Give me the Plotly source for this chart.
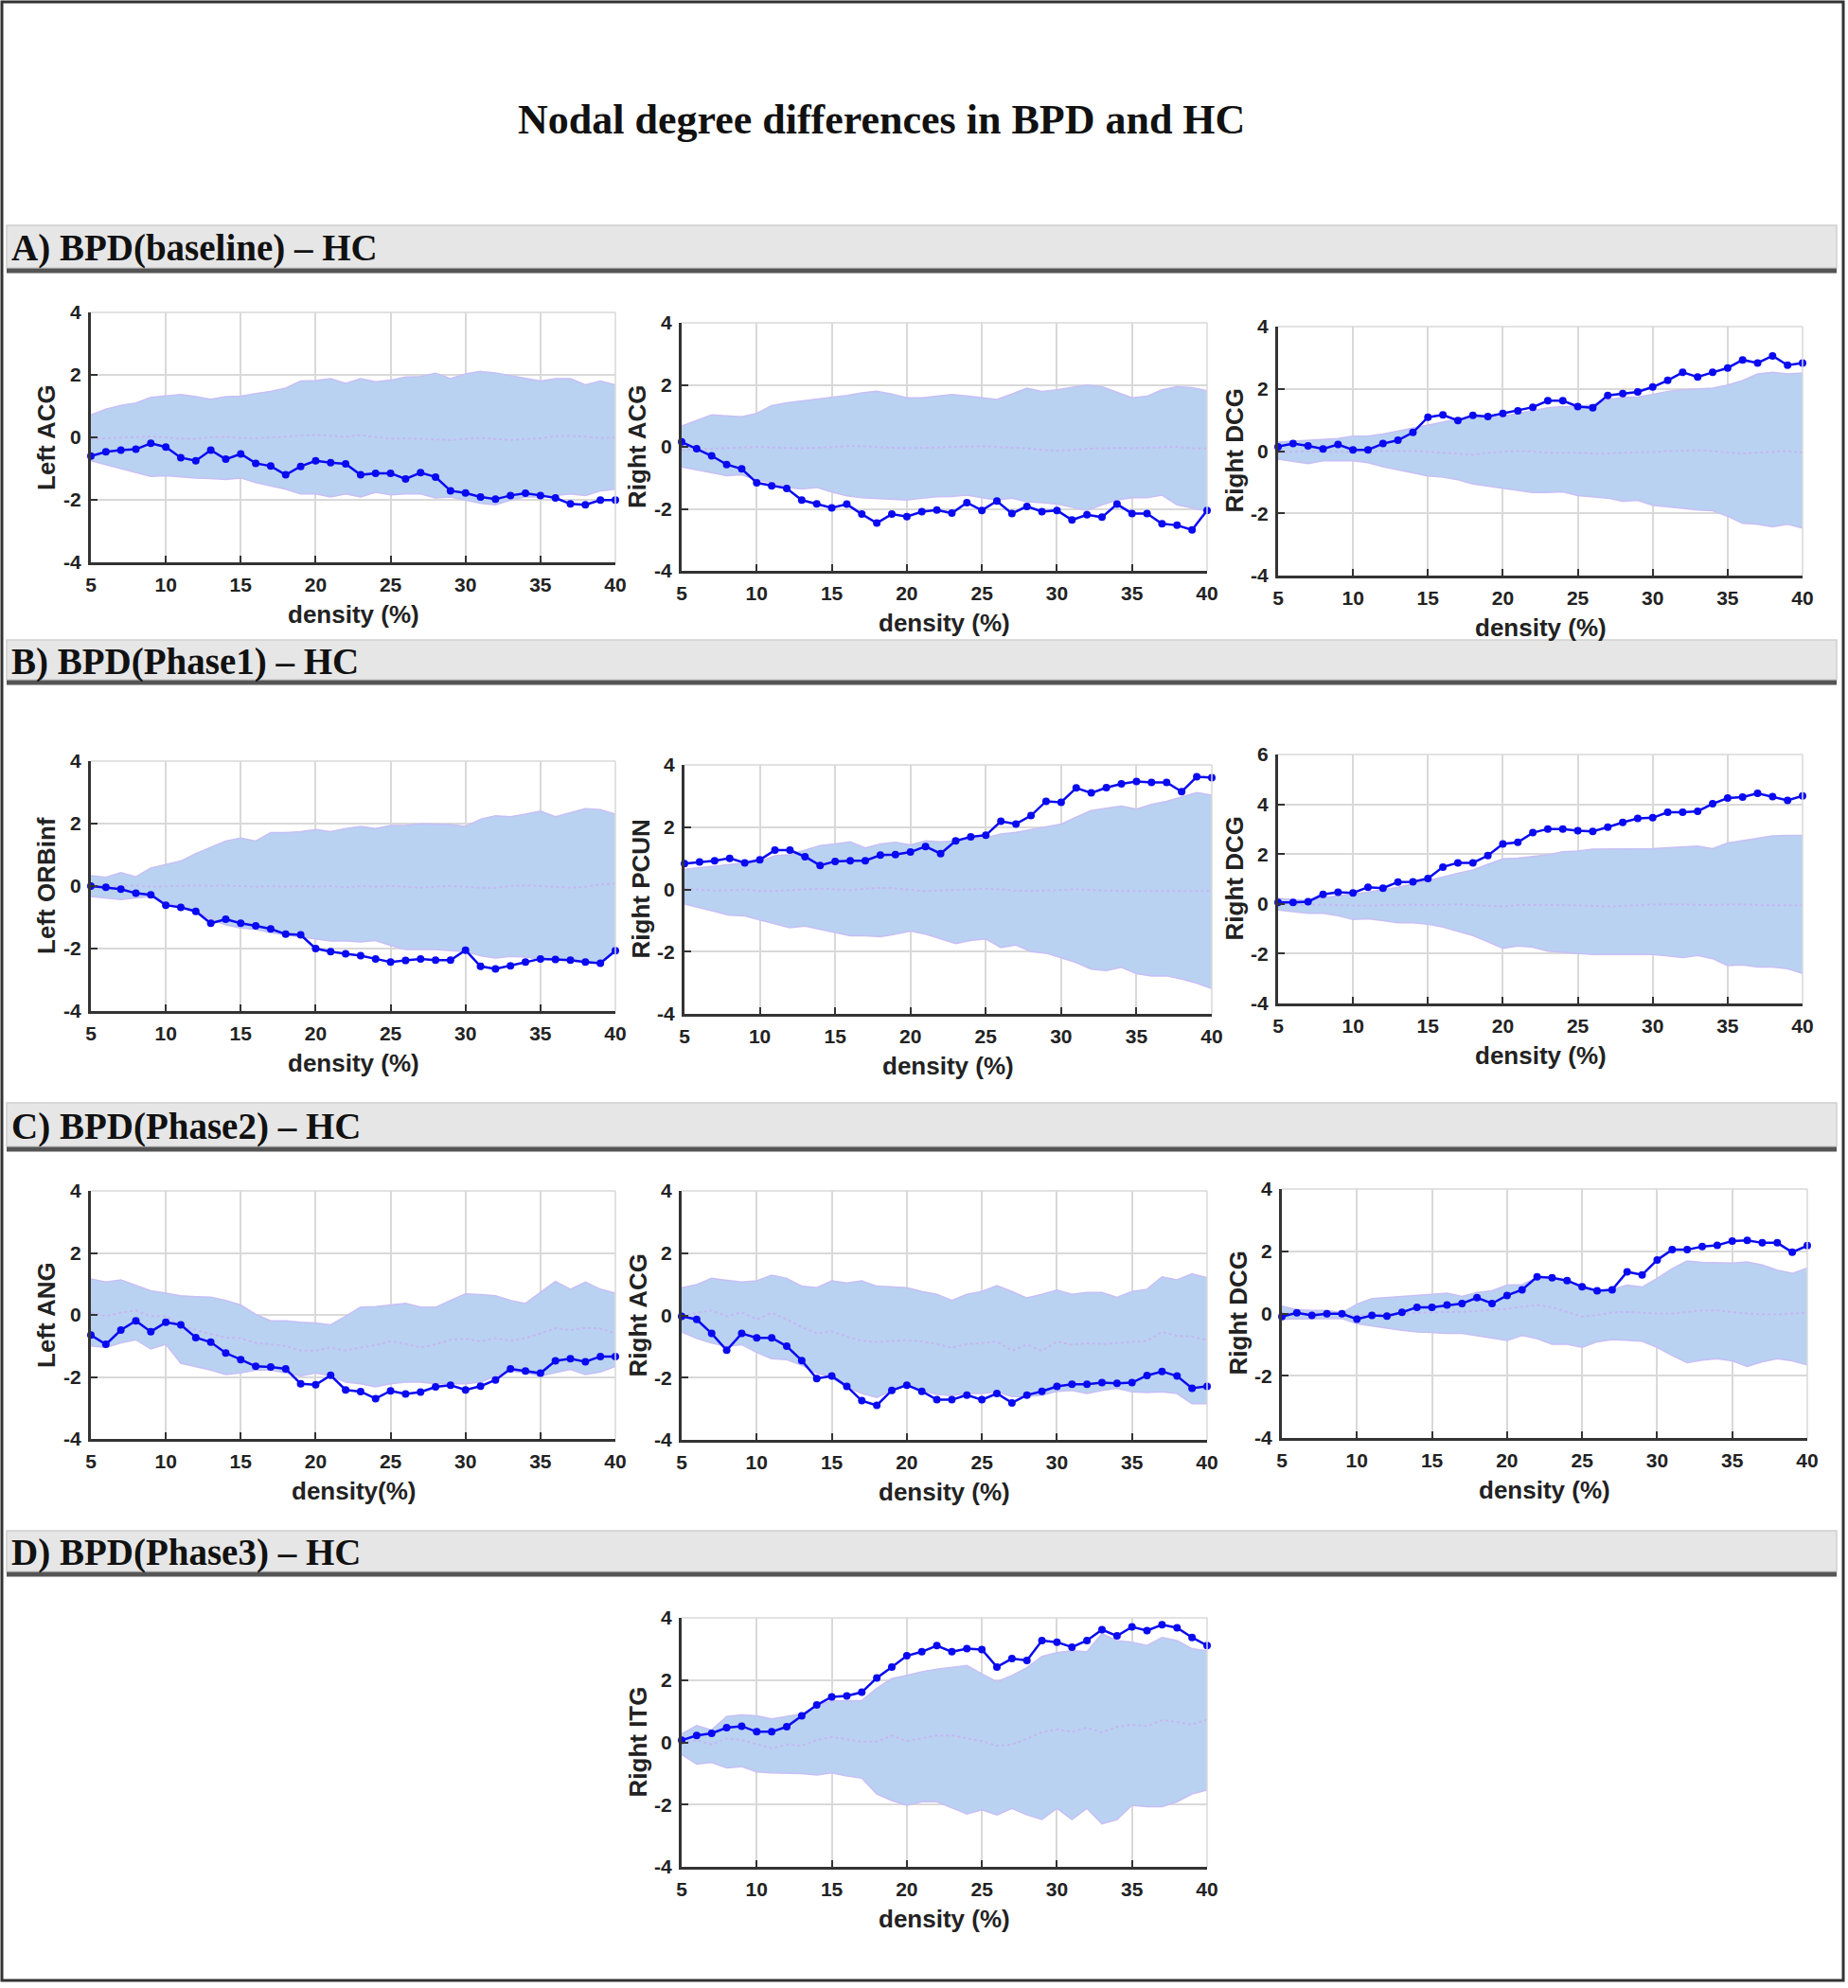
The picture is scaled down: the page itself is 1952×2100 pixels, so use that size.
import plotly.graph_objects as go

W, H = 1952, 2100

# ---------------- data ----------------
density = list(range(5, 41))
x_tick_vals = [5, 10, 15, 20, 25, 30, 35, 40]
y_ticks_std = [-4, -2, 0, 2, 4]
y_ticks_wide = [-4, -2, 0, 2, 4, 6]
y_labels_std = ["-4", "-2", "0", "2", "4"]
y_labels_wide = ["-4", "-2", "0", "2", "4", "6"]

main_title = "Nodal degree differences in BPD and HC"
section_titles = ["A) BPD(baseline) – HC", "B) BPD(Phase1) – HC",
                  "C) BPD(Phase2) – HC", "D) BPD(Phase3) – HC"]
region_labels = ["Left ACG", "Right ACG", "Right DCG",
                 "Left ORBinf", "Right PCUN", "Right DCG",
                 "Left ANG", "Right ACG", "Right DCG",
                 "Right ITG"]
x_titles = ["density (%)", "density (%)", "density (%)",
            "density (%)", "density (%)", "density (%)",
            "density(%)", "density (%)", "density (%)",
            "density (%)"]

# A1 Left ACG (baseline)
a1_diff = [-0.6, -0.46, -0.41, -0.38, -0.19, -0.31, -0.65, -0.75, -0.41, -0.7, -0.53, -0.83, -0.92, -1.2, -0.93, -0.75, -0.81, -0.85,
           -1.2, -1.15, -1.15, -1.33, -1.13, -1.27, -1.71, -1.78, -1.91, -1.98, -1.86, -1.79, -1.86, -1.94, -2.13, -2.16, -2.01, -2.01]
a1_upper = [0.72, 0.9, 1.02, 1.1, 1.28, 1.32, 1.37, 1.3, 1.22, 1.3, 1.32, 1.4, 1.47, 1.58, 1.8, 1.82, 1.88, 1.73,
            1.88, 1.78, 1.83, 1.93, 1.95, 2.05, 1.88, 2.03, 2.11, 2.06, 1.98, 1.88, 1.8, 1.88, 1.88, 1.68, 1.8, 1.68]
a1_lower = [-0.75, -0.88, -1.0, -1.12, -1.25, -1.23, -1.27, -1.3, -1.32, -1.35, -1.3, -1.45, -1.55, -1.66, -1.81, -1.81, -1.91, -1.81,
            -1.91, -1.76, -1.84, -1.81, -1.81, -1.94, -1.91, -2.01, -2.11, -2.16, -2.01, -1.91, -1.91, -1.86, -1.81, -1.86, -1.71, -1.66]
a1_mean = [-0.05, -0.03, 0.0, 0.02, 0.03, 0.0, -0.04, -0.05, 0.0, 0.02, -0.02, -0.03, 0.0, 0.03, 0.05, 0.08, 0.05, 0.02,
           0.07, 0.02, -0.04, -0.03, -0.05, -0.06, -0.08, -0.05, -0.02, -0.05, -0.08, -0.05, -0.03, 0.04, 0.05, 0.02, -0.02, 0.0]

# A2 Right ACG (baseline)
a2_diff = [0.16, -0.06, -0.29, -0.57, -0.71, -1.16, -1.26, -1.34, -1.72, -1.84, -1.97, -1.85, -2.17, -2.46, -2.17, -2.25, -2.09, -2.04,
           -2.14, -1.8, -2.05, -1.75, -2.15, -1.92, -2.09, -2.05, -2.36, -2.19, -2.27, -1.85, -2.15, -2.15, -2.48, -2.53, -2.68, -2.05]
a2_upper = [0.67, 0.85, 1.03, 1.0, 0.97, 1.08, 1.33, 1.42, 1.48, 1.53, 1.58, 1.66, 1.74, 1.79, 1.7, 1.58, 1.58, 1.63,
            1.69, 1.64, 1.58, 1.53, 1.7, 1.89, 1.79, 1.84, 1.92, 1.99, 1.94, 1.75, 1.58, 1.63, 1.84, 1.94, 1.91, 1.81]
a2_lower = [-0.65, -0.75, -0.85, -0.93, -0.9, -1.06, -1.16, -1.31, -1.36, -1.31, -1.46, -1.58, -1.64, -1.66, -1.7, -1.72, -1.66, -1.61,
            -1.6, -1.56, -1.64, -1.72, -1.66, -1.77, -1.8, -1.85, -1.95, -2.05, -1.87, -1.72, -1.64, -1.64, -1.56, -1.87, -1.97, -2.07]
a2_mean = [-0.1, -0.08, -0.05, -0.03, -0.02, 0.0, -0.02, -0.03, -0.05, -0.03, 0.0, 0.02, 0.02, 0.0, -0.03, -0.05, -0.03, -0.02,
           -0.02, 0.0, 0.02, 0.0, -0.02, -0.05, -0.1, -0.12, -0.1, -0.06, -0.05, -0.03, -0.05, -0.03, 0.0, 0.0, -0.05, -0.05]

# A3 Right DCG (baseline)
a3_diff = [0.14, 0.24, 0.17, 0.07, 0.21, 0.04, 0.04, 0.24, 0.35, 0.6, 1.09, 1.16, 0.98, 1.15, 1.11, 1.21, 1.29, 1.41,
           1.62, 1.62, 1.43, 1.39, 1.79, 1.85, 1.9, 2.06, 2.27, 2.53, 2.38, 2.53, 2.67, 2.93, 2.83, 3.06, 2.76, 2.83]
a3_upper = [0.29, 0.32, 0.35, 0.38, 0.4, 0.48, 0.48, 0.55, 0.65, 0.73, 0.85, 0.95, 1.03, 1.09, 1.1, 1.11, 1.21, 1.31,
            1.39, 1.43, 1.43, 1.49, 1.66, 1.72, 1.74, 1.82, 1.92, 1.97, 2.0, 2.02, 2.12, 2.27, 2.48, 2.53, 2.48, 2.51]
a3_lower = [-0.26, -0.33, -0.4, -0.31, -0.31, -0.31, -0.37, -0.5, -0.6, -0.7, -0.8, -0.84, -0.92, -1.06, -1.13, -1.21, -1.28, -1.33,
            -1.33, -1.31, -1.43, -1.48, -1.51, -1.61, -1.58, -1.74, -1.79, -1.86, -1.89, -1.92, -2.09, -2.32, -2.35, -2.43, -2.35, -2.47]
a3_mean = [-0.05, -0.03, 0.0, -0.02, -0.03, -0.02, 0.0, 0.0, 0.02, 0.0, -0.02, -0.05, -0.08, -0.12, -0.05, -0.02, 0.0, -0.02,
           -0.05, -0.05, -0.05, -0.08, -0.08, -0.05, -0.05, -0.03, 0.0, 0.02, 0.03, 0.0, -0.05, -0.08, -0.05, -0.02, 0.0, -0.05]

# B1 Left ORBinf (Phase1)
b1_diff = [0.0, -0.04, -0.1, -0.23, -0.28, -0.61, -0.68, -0.81, -1.19, -1.06, -1.19, -1.27, -1.37, -1.54, -1.56, -2.0, -2.1, -2.17,
           -2.23, -2.33, -2.43, -2.38, -2.33, -2.37, -2.37, -2.05, -2.57, -2.65, -2.55, -2.43, -2.33, -2.35, -2.37, -2.43, -2.47, -2.07]
b1_upper = [0.33, 0.28, 0.43, 0.3, 0.58, 0.68, 0.8, 1.04, 1.24, 1.44, 1.54, 1.44, 1.71, 1.71, 1.74, 1.81, 1.74, 1.84,
            1.91, 1.84, 1.94, 1.94, 1.99, 1.97, 1.97, 1.91, 2.14, 2.25, 2.22, 2.3, 2.4, 2.22, 2.35, 2.48, 2.45, 2.3]
b1_lower = [-0.33, -0.38, -0.43, -0.38, -0.33, -0.53, -0.65, -0.81, -1.06, -1.24, -1.34, -1.39, -1.49, -1.56, -1.62, -1.69, -1.76, -1.76,
            -1.79, -1.74, -1.9, -2.03, -2.03, -2.03, -2.07, -2.1, -2.23, -2.3, -2.25, -2.27, -2.35, -2.35, -2.4, -2.45, -2.47, -2.1]
b1_mean = [0.0, -0.02, 0.0, 0.02, -0.02, 0.0, 0.0, 0.02, 0.0, 0.02, 0.0, -0.02, 0.0, -0.02, 0.0, -0.02, 0.0, -0.04,
           0.0, -0.02, 0.0, -0.03, -0.05, -0.02, 0.0, -0.02, -0.05, -0.05, 0.0, 0.02, 0.0, -0.02, -0.05, -0.02, 0.05, 0.08]

# B2 Right PCUN (Phase1)
b2_diff = [0.83, 0.88, 0.92, 1.0, 0.85, 0.95, 1.26, 1.26, 1.05, 0.77, 0.9, 0.92, 0.92, 1.1, 1.12, 1.2, 1.38, 1.15,
           1.56, 1.69, 1.74, 2.19, 2.1, 2.37, 2.83, 2.8, 3.26, 3.1, 3.27, 3.39, 3.47, 3.44, 3.44, 3.14, 3.62, 3.59]
b2_upper = [0.65, 0.7, 0.75, 0.8, 0.85, 0.9, 1.08, 1.12, 1.26, 1.41, 1.46, 1.53, 1.33, 1.46, 1.51, 1.43, 1.56, 1.53,
            1.56, 1.63, 1.66, 1.78, 1.83, 1.92, 2.02, 2.1, 2.32, 2.53, 2.61, 2.68, 2.58, 2.73, 2.83, 2.98, 3.11, 3.03]
b2_lower = [-0.47, -0.6, -0.71, -0.83, -0.85, -0.98, -1.11, -1.23, -1.18, -1.28, -1.39, -1.49, -1.49, -1.52, -1.44, -1.34, -1.44, -1.59,
            -1.74, -1.64, -1.59, -1.87, -1.79, -2.0, -2.05, -2.2, -2.35, -2.56, -2.61, -2.5, -2.71, -2.78, -2.78, -2.88, -3.01, -3.19]
b2_mean = [0.02, -0.02, -0.04, -0.02, 0.0, -0.05, -0.05, -0.02, 0.0, 0.02, 0.0, -0.02, 0.02, 0.05, 0.03, 0.0, -0.05, -0.03,
           -0.02, 0.0, 0.02, 0.0, -0.04, -0.05, -0.03, -0.02, 0.0, -0.02, -0.04, -0.05, -0.05, -0.05, -0.06, -0.05, -0.05, -0.05]

# B3 Right DCG (Phase1)
b3_diff = [0.06, 0.06, 0.09, 0.38, 0.47, 0.44, 0.67, 0.63, 0.88, 0.89, 1.02, 1.48, 1.65, 1.65, 1.94, 2.41, 2.47, 2.86,
           3.01, 3.01, 2.94, 2.91, 3.08, 3.27, 3.43, 3.46, 3.68, 3.68, 3.72, 4.02, 4.25, 4.29, 4.44, 4.31, 4.16, 4.34]
b3_upper = [0.22, 0.18, 0.13, 0.25, 0.32, 0.38, 0.47, 0.57, 0.67, 0.8, 0.93, 1.08, 1.23, 1.36, 1.59, 1.81, 1.84, 1.9,
            1.97, 2.09, 2.12, 2.2, 2.2, 2.2, 2.2, 2.22, 2.25, 2.28, 2.32, 2.22, 2.45, 2.54, 2.63, 2.73, 2.75, 2.75]
b3_lower = [-0.25, -0.32, -0.38, -0.38, -0.47, -0.63, -0.6, -0.67, -0.76, -0.76, -0.82, -0.93, -1.1, -1.27, -1.52, -1.78, -1.69, -1.74,
            -1.9, -1.94, -1.97, -2.03, -2.03, -2.03, -2.03, -2.03, -2.09, -2.16, -2.07, -2.2, -2.48, -2.45, -2.54, -2.54, -2.6, -2.79]
b3_mean = [0.0, -0.02, -0.05, -0.03, -0.05, -0.08, -0.08, -0.05, -0.03, -0.03, -0.05, -0.03, -0.02, -0.05, -0.08, -0.1, -0.05, -0.05,
           -0.03, -0.05, -0.06, -0.08, -0.1, -0.08, -0.05, -0.03, -0.02, -0.03, -0.05, -0.05, -0.03, -0.02, -0.05, -0.06, -0.06, -0.05]

# C1 Left ANG (Phase2)
c1_diff = [-0.65, -0.95, -0.49, -0.19, -0.54, -0.24, -0.32, -0.73, -0.88, -1.23, -1.44, -1.66, -1.68, -1.74, -2.22, -2.25, -1.95, -2.42,
           -2.47, -2.7, -2.45, -2.55, -2.49, -2.32, -2.27, -2.42, -2.3, -2.1, -1.74, -1.81, -1.88, -1.48, -1.41, -1.51, -1.34, -1.34]
c1_upper = [1.16, 1.06, 1.13, 0.96, 0.78, 0.7, 0.62, 0.59, 0.57, 0.47, 0.32, 0.02, -0.19, -0.19, -0.24, -0.26, -0.32, -0.04,
            0.25, 0.27, 0.32, 0.37, 0.25, 0.25, 0.47, 0.68, 0.66, 0.62, 0.47, 0.37, 0.73, 1.08, 0.83, 1.06, 0.83, 0.7]
c1_lower = [-1.0, -1.05, -0.9, -0.8, -1.1, -0.95, -1.56, -1.66, -1.78, -1.92, -1.87, -1.78, -1.78, -1.87, -1.97, -1.87, -1.97, -2.17,
            -2.22, -2.32, -2.22, -2.17, -2.17, -2.22, -2.22, -2.22, -2.17, -1.97, -1.81, -1.87, -1.97, -1.87, -1.76, -1.92, -1.84, -1.66]
c1_mean = [0.07, -0.04, 0.07, 0.15, -0.04, -0.04, -0.34, -0.49, -0.62, -0.73, -0.75, -0.9, -0.95, -1.0, -1.15, -1.15, -1.05, -1.15,
           -1.05, -0.97, -0.85, -0.93, -1.05, -0.95, -0.8, -0.77, -0.85, -0.75, -0.83, -0.75, -0.6, -0.42, -0.49, -0.42, -0.44, -0.6]

# C2 Right ACG (Phase2)
c2_diff = [-0.03, -0.13, -0.58, -1.12, -0.58, -0.72, -0.72, -0.99, -1.45, -2.03, -1.95, -2.28, -2.74, -2.89, -2.41, -2.24, -2.44, -2.71,
           -2.71, -2.56, -2.71, -2.51, -2.81, -2.56, -2.44, -2.28, -2.21, -2.21, -2.16, -2.18, -2.16, -1.93, -1.8, -1.95, -2.34, -2.28]
c2_upper = [0.89, 0.99, 1.19, 1.14, 1.07, 1.11, 1.29, 1.19, 0.94, 0.89, 1.11, 1.04, 1.11, 0.94, 0.91, 0.89, 0.77, 0.68,
            0.48, 0.68, 0.77, 0.96, 0.77, 0.56, 0.68, 0.81, 0.68, 0.74, 0.74, 0.58, 0.77, 0.84, 1.24, 1.14, 1.34, 1.21]
c2_lower = [-0.53, -0.74, -0.89, -0.99, -0.94, -1.19, -1.39, -1.42, -1.6, -1.85, -2.0, -2.31, -2.51, -2.64, -2.41, -2.26, -2.41, -2.54,
            -2.58, -2.51, -2.51, -2.46, -2.61, -2.61, -2.56, -2.44, -2.41, -2.51, -2.41, -2.34, -2.46, -2.48, -2.46, -2.51, -2.84, -2.84]
c2_mean = [-0.03, 0.08, 0.16, -0.03, 0.1, -0.13, 0.08, -0.13, -0.38, -0.58, -0.51, -0.68, -0.82, -0.86, -0.82, -0.79, -0.84, -0.92,
           -1.04, -0.92, -0.89, -0.84, -1.14, -0.94, -1.14, -0.84, -0.94, -0.89, -0.92, -0.89, -0.86, -0.82, -0.53, -0.66, -0.68, -0.79]

# C3 Right DCG (Phase2)
c3_diff = [-0.1, 0.02, -0.06, -0.01, -0.01, -0.18, -0.06, -0.08, 0.04, 0.2, 0.2, 0.27, 0.32, 0.51, 0.32, 0.58, 0.76, 1.18,
           1.15, 1.06, 0.86, 0.73, 0.76, 1.34, 1.24, 1.72, 2.05, 2.05, 2.15, 2.19, 2.33, 2.35, 2.27, 2.27, 1.97, 2.18]
c3_upper = [0.24, 0.12, 0.1, 0.1, 0.02, 0.3, 0.48, 0.51, 0.55, 0.58, 0.61, 0.65, 0.55, 0.68, 0.73, 0.91, 0.93, 1.15,
            1.13, 1.05, 0.85, 0.73, 0.78, 0.91, 0.85, 1.13, 1.44, 1.69, 1.64, 1.62, 1.62, 1.66, 1.56, 1.39, 1.29, 1.46]
c3_lower = [-0.18, -0.18, -0.16, -0.16, -0.16, -0.33, -0.41, -0.47, -0.54, -0.59, -0.61, -0.64, -0.64, -0.71, -0.79, -0.87, -0.71, -0.81,
            -0.99, -0.99, -1.09, -0.91, -0.84, -0.87, -0.89, -1.09, -1.35, -1.58, -1.5, -1.45, -1.52, -1.7, -1.55, -1.45, -1.52, -1.65]
c3_mean = [0.0, 0.02, 0.0, 0.0, 0.0, -0.05, -0.03, -0.02, 0.0, 0.02, 0.03, 0.05, 0.05, 0.08, 0.1, 0.15, 0.22, 0.27,
           0.2, 0.05, -0.1, -0.05, 0.03, 0.05, 0.02, 0.0, 0.0, 0.05, 0.1, 0.1, 0.05, 0.0, -0.02, -0.03, 0.0, 0.02]

# D Right ITG (Phase3)
d_diff = [0.07, 0.22, 0.29, 0.47, 0.52, 0.34, 0.34, 0.5, 0.85, 1.2, 1.46, 1.49, 1.61, 2.07, 2.42, 2.78, 2.91, 3.11,
          2.91, 3.01, 2.98, 2.42, 2.69, 2.63, 3.27, 3.22, 3.06, 3.27, 3.62, 3.42, 3.71, 3.59, 3.78, 3.68, 3.37, 3.11]
d_upper = [0.27, 0.54, 0.4, 0.83, 0.88, 0.85, 0.75, 0.83, 0.91, 1.18, 1.34, 1.34, 1.34, 1.74, 2.05, 2.15, 2.27, 2.35,
           2.4, 2.47, 2.2, 1.95, 2.15, 2.4, 2.76, 2.88, 2.94, 2.91, 3.49, 3.27, 3.22, 3.11, 3.37, 3.27, 3.01, 2.94]
d_lower = [-0.39, -0.7, -0.65, -0.82, -0.78, -0.95, -0.98, -0.98, -1.0, -1.05, -0.98, -1.08, -1.15, -1.66, -1.87, -2.02, -1.91, -1.91,
           -2.1, -2.3, -2.17, -2.33, -2.12, -2.33, -2.48, -2.12, -2.48, -2.12, -2.62, -2.48, -2.02, -2.07, -2.07, -1.91, -1.66, -1.53]
d_mean = [-0.04, 0.07, -0.07, 0.12, 0.07, -0.07, -0.19, -0.07, -0.11, 0.07, 0.17, 0.1, 0.02, 0.02, 0.22, 0.04, 0.14, 0.22,
          0.22, 0.12, 0.04, -0.11, -0.07, 0.12, 0.32, 0.42, 0.34, 0.47, 0.32, 0.5, 0.57, 0.52, 0.71, 0.65, 0.57, 0.73]

panels_data = [
    (a1_diff, a1_upper, a1_lower, a1_mean),
    (a2_diff, a2_upper, a2_lower, a2_mean),
    (a3_diff, a3_upper, a3_lower, a3_mean),
    (b1_diff, b1_upper, b1_lower, b1_mean),
    (b2_diff, b2_upper, b2_lower, b2_mean),
    (b3_diff, b3_upper, b3_lower, b3_mean),
    (c1_diff, c1_upper, c1_lower, c1_mean),
    (c2_diff, c2_upper, c2_lower, c2_mean),
    (c3_diff, c3_upper, c3_lower, c3_mean),
    (d_diff, d_upper, d_lower, d_mean),
]
y_ranges = [[-4, 4]] * 5 + [[-4, 6]] + [[-4, 4]] * 4
y_tick_sets = [y_ticks_std] * 5 + [y_ticks_wide] + [y_ticks_std] * 4
y_label_sets = [y_labels_std] * 5 + [y_labels_wide] + [y_labels_std] * 4

# ---------------- layout (pixel boxes: left, right, top, bottom) ----------------
boxes = [
    (96, 650, 330, 594), (720, 1275, 341, 603), (1350, 1904, 345, 608),
    (96, 650, 804, 1068), (723, 1280, 808, 1071), (1350, 1904, 797, 1060),
    (96, 650, 1258, 1520), (720, 1275, 1258, 1521), (1354, 1909, 1256, 1519),
    (720, 1275, 1709, 1972),
]
# section header bars: (top, bottom of bar, text centre)
bars = [(238, 283, 262), (676, 718, 699), (1165, 1211, 1190), (1617, 1660, 1640)]

def px(x):
    return x / W

def py(y):
    return 1 - y / H

BAND_FILL = "#b9d2f2"
BAND_EDGE = "#c7bff5"
MEAN_COL = "#c5b6f0"
LINE_COL = "#0a0af0"
AX_COL = "#333333"
GRID_COL = "#d9d9d9"
SANS = "Arial, Liberation Sans, sans-serif"
SERIF = "Times New Roman, Liberation Serif, serif"

fig = go.Figure()
layout = dict(
    width=W, height=H, autosize=False,
    margin=dict(l=0, r=0, t=0, b=0, pad=0, autoexpand=False),
    paper_bgcolor="white", plot_bgcolor="white",
    showlegend=False, hovermode=False,
)
shapes = []
annotations = []

for i, ((diff, upper, lower, mean), (l, r, t, b)) in enumerate(zip(panels_data, boxes)):
    n = i + 1
    xa = "x" if n == 1 else f"x{n}"
    ya = "y" if n == 1 else f"y{n}"
    xkey = "xaxis" if n == 1 else f"xaxis{n}"
    ykey = "yaxis" if n == 1 else f"yaxis{n}"

    fig.add_trace(go.Scatter(x=density, y=lower, mode="lines", xaxis=xa, yaxis=ya,
                             line=dict(color=BAND_EDGE, width=1.5)))
    fig.add_trace(go.Scatter(x=density, y=upper, mode="lines", xaxis=xa, yaxis=ya,
                             fill="tonexty", fillcolor=BAND_FILL,
                             line=dict(color=BAND_EDGE, width=1.5)))
    fig.add_trace(go.Scatter(x=density, y=mean, mode="lines", xaxis=xa, yaxis=ya,
                             line=dict(color=MEAN_COL, width=2, dash="dot")))
    fig.add_trace(go.Scatter(x=density, y=diff, mode="lines+markers", xaxis=xa, yaxis=ya,
                             cliponaxis=False,
                             line=dict(color=LINE_COL, width=2.5),
                             marker=dict(color=LINE_COL, size=8, symbol="circle")))

    common = dict(
        showgrid=True, gridcolor=GRID_COL, gridwidth=1.5,
        showline=True, linecolor=AX_COL, linewidth=3,
        ticks="inside", ticklen=7, tickwidth=2, tickcolor=AX_COL,
        tickfont=dict(family=SANS, size=21, color="#222222", weight="bold"),
        zeroline=False, fixedrange=True, mirror=False, automargin=False,
    )
    layout[xkey] = dict(domain=[px(l), px(r)], anchor=ya, range=[5, 40],
                        tickmode="array", tickvals=x_tick_vals, ticklabelstandoff=3, **common)
    layout[ykey] = dict(domain=[py(b), py(t)], anchor=xa, range=y_ranges[i],
                        tickmode="array", tickvals=y_tick_sets[i], ticktext=y_label_sets[i],
                        ticklabelstandoff=3, **common)

    # light top / right box edges
    shapes.append(dict(type="line", xref="paper", yref="paper", x0=px(l), x1=px(r), y0=py(t), y1=py(t),
                       line=dict(color=GRID_COL, width=1.5), layer="above"))
    shapes.append(dict(type="line", xref="paper", yref="paper", x0=px(r), x1=px(r), y0=py(b), y1=py(t),
                       line=dict(color=GRID_COL, width=1.5), layer="above"))

    # axis titles
    annotations.append(dict(text=x_titles[i], xref="paper", yref="paper",
                            x=px((l + r) / 2), y=py(b + 55), xanchor="center", yanchor="middle",
                            showarrow=False, font=dict(family=SANS, size=26, color="#222222", weight="bold")))
    annotations.append(dict(text=region_labels[i], xref="paper", yref="paper",
                            x=px(l - 47), y=py((t + b) / 2), xanchor="center", yanchor="middle",
                            textangle=-90, showarrow=False,
                            font=dict(family=SANS, size=26, color="#222222", weight="bold")))

# section header bars
for (top, bot, tc), title in zip(bars, section_titles):
    shapes.append(dict(type="rect", xref="paper", yref="paper", x0=px(7), x1=px(1940), y0=py(bot), y1=py(top),
                       fillcolor="#e6e6e6", line=dict(color="#cfcfcf", width=1.5), layer="below"))
    shapes.append(dict(type="line", xref="paper", yref="paper", x0=px(7), x1=px(1940), y0=py(bot + 3), y1=py(bot + 3),
                       line=dict(color="#555555", width=5)))
    annotations.append(dict(text=title, xref="paper", yref="paper", x=px(10), y=py(tc),
                            xanchor="left", yanchor="middle", showarrow=False,
                            font=dict(family=SERIF, size=39, color="#111111", weight="bold")))

# main title
annotations.append(dict(text=main_title, xref="paper", yref="paper", x=px(931), y=py(127),
                        xanchor="center", yanchor="middle", showarrow=False,
                        font=dict(family=SERIF, size=44, color="#111111", weight="bold")))

# outer frame
shapes.append(dict(type="rect", xref="paper", yref="paper", x0=px(2), x1=px(1947), y0=py(2092), y1=py(2),
                   line=dict(color="#333333", width=3)))

layout["shapes"] = shapes
layout["annotations"] = annotations
fig.update_layout(**layout)

fig.write_html("out.html", config={"displayModeBar": False},
               post_script="document.body.style.margin='0';document.body.style.overflow='hidden';")
